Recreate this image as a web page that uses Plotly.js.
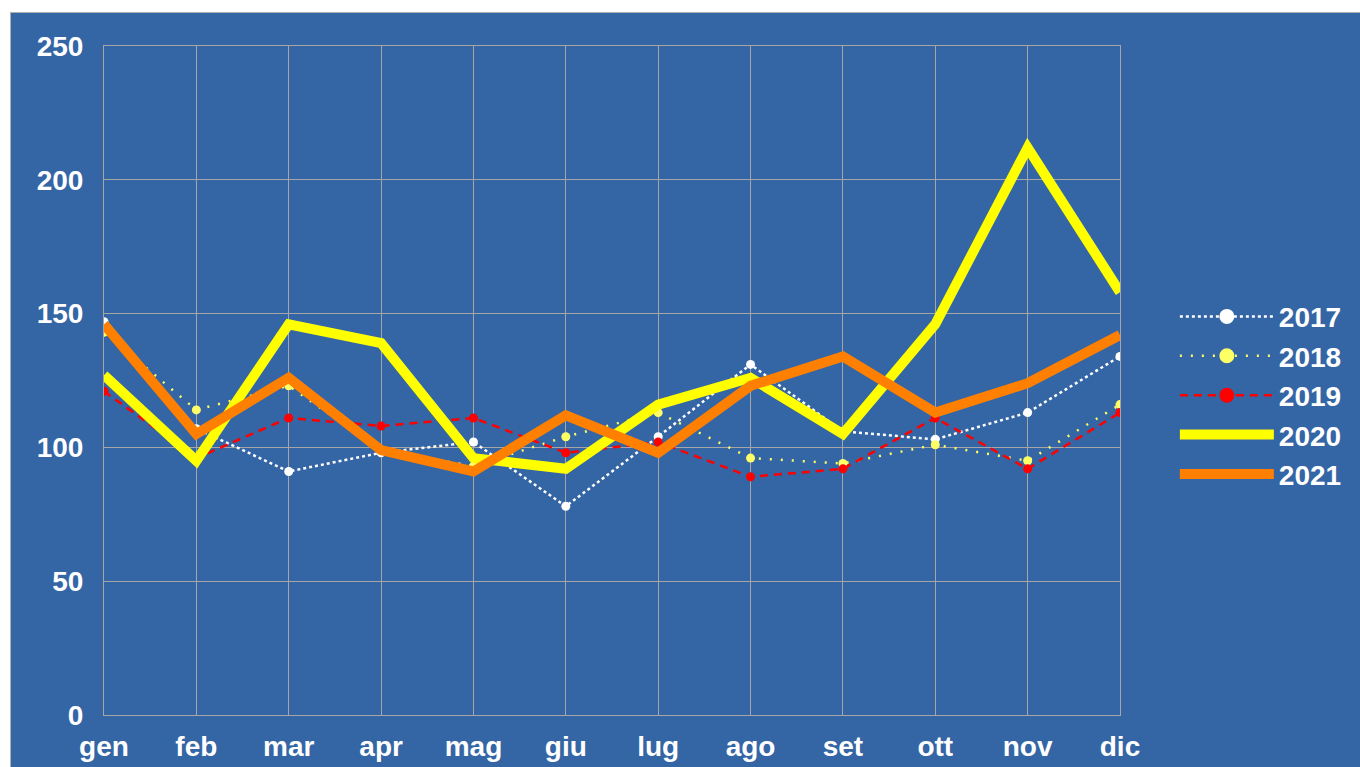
<!DOCTYPE html>
<html>
<head>
<meta charset="utf-8">
<script src="https://cdn.plot.ly/plotly-3.0.1.min.js"></script>
<style>
html,body{margin:0;padding:0;background:#ffffff;width:1360px;height:767px;overflow:hidden;}
#chart{position:absolute;left:10px;top:12px;width:1350px;height:755px;box-sizing:border-box;border-left:1px solid #b0b0b0;border-top:1px solid #b0b0b0;}
</style>
</head>
<body>
<div id="chart"></div>
<script>
const months = ["gen","feb","mar","apr","mag","giu","lug","ago","set","ott","nov","dic"];
const y2017 = [147,107,91,98,102,78,104,131,106,103,113,134];
const y2018 = [143,114,123,99,93,104,113,96,94,101,95,116];
const y2019 = [121,96,111,108,111,98,102,89,92,111,92,113];
const y2020 = [127,95,146,139,96,92,116,126,105,146,212,158];
const y2021 = [146,105,126,99,91,112,98,123,134,113,124,142];
const seriesNames = ["2017","2018","2019","2020","2021"];

const F = "'Liberation Sans', Arial, sans-serif";
const traces = [
  {x: months, y: y2017, name: seriesNames[0], mode: 'lines+markers',
   line: {color: '#ffffff', width: 2.5, dash: 'dot'}, marker: {color: '#ffffff', size: 9}, showlegend: false},
  {x: months, y: y2018, name: seriesNames[1], mode: 'lines+markers',
   line: {color: '#ffff66', width: 2.5, dash: '2px,9px'}, marker: {color: '#ffff66', size: 9}, showlegend: false},
  {x: months, y: y2019, name: seriesNames[2], mode: 'lines+markers',
   line: {color: '#ff0000', width: 2.5, dash: '8px,6px'}, marker: {color: '#ff0000', size: 9}, showlegend: false},
  {x: months, y: y2020, name: seriesNames[3], mode: 'lines',
   line: {color: '#ffff00', width: 10}, showlegend: false},
  {x: months, y: y2021, name: seriesNames[4], mode: 'lines',
   line: {color: '#ff8000', width: 10}, showlegend: false},
  // legend entries
  {x: [null], y: [null], name: seriesNames[0], mode: 'lines+markers',
   line: {color: '#ffffff', width: 2.5, dash: 'dot'}, marker: {color: '#ffffff', size: 15}},
  {x: [null], y: [null], name: seriesNames[1], mode: 'lines+markers',
   line: {color: '#ffff66', width: 2.5, dash: '2px,9px'}, marker: {color: '#ffff66', size: 15}},
  {x: [null], y: [null], name: seriesNames[2], mode: 'lines+markers',
   line: {color: '#ff0000', width: 2.5, dash: '8px,6px'}, marker: {color: '#ff0000', size: 15}},
  {x: [null], y: [null], name: seriesNames[3], mode: 'lines',
   line: {color: '#ffff00', width: 12}},
  {x: [null], y: [null], name: seriesNames[4], mode: 'lines',
   line: {color: '#ff8000', width: 12}}
];

const layout = {
  width: 1350, height: 755,
  paper_bgcolor: '#3465a4', plot_bgcolor: '#3465a4',
  margin: {l: 93, r: 241, t: 33, b: 53, pad: 0},
  font: {family: F, size: 28, color: '#ffffff', weight: 'bold'},
  xaxis: {type: 'category', categoryorder: 'array', categoryarray: months,
    range: [0, 11], showgrid: true, gridcolor: '#a6a6a6', gridwidth: 1,
    showline: true, linecolor: '#a6a6a6', mirror: true, zeroline: false,
    ticks: 'outside', ticklen: 6, tickcolor: 'rgba(0,0,0,0)',
    tickfont: {family: F, size: 28, color: '#ffffff', weight: 'bold'}, fixedrange: true},
  yaxis: {range: [0, 250], dtick: 50, tick0: 0, showgrid: true, gridcolor: '#a6a6a6', gridwidth: 1,
    showline: true, linecolor: '#a6a6a6', mirror: true, zeroline: false,
    ticks: 'outside', ticklen: 14, tickcolor: 'rgba(0,0,0,0)',
    tickfont: {family: F, size: 28, color: '#ffffff', weight: 'bold'}, fixedrange: true},
  legend: {x: 1.054, xanchor: 'left', y: 0.478, yanchor: 'middle',
    bgcolor: 'rgba(0,0,0,0)', font: {family: F, size: 28, color: '#ffffff', weight: 'bold'},
    itemwidth: 94, tracegroupgap: 0, traceorder: 'normal'},
  showlegend: true
};

Plotly.newPlot('chart', traces, layout, {displayModeBar: false, staticPlot: true});
</script>
</body>
</html>
